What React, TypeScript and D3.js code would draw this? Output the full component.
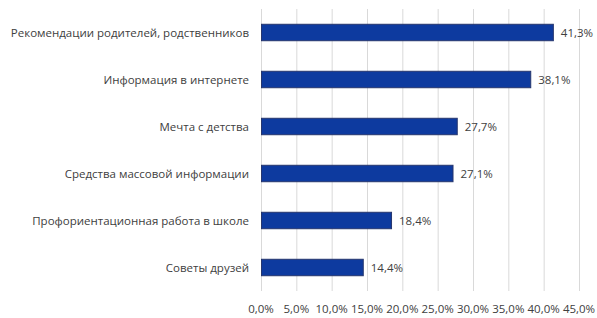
import React, { useRef, useEffect } from 'react';
import * as d3 from 'd3';

const categories = [
  'Рекомендации родителей, родственников',
  'Информация в интернете',
  'Мечта с детства',
  'Средства массовой информации',
  'Профориентационная работа в школе',
  'Советы друзей',
];
const values = [41.3, 38.1, 27.7, 27.1, 18.4, 14.4];
const ticks = [0, 5, 10, 15, 20, 25, 30, 35, 40, 45];

const fmt = (v: number) => v.toFixed(1).replace('.', ',') + '%';

function App() {
  const svgRef = useRef<SVGSVGElement>(null);

  useEffect(() => {
    const svg = d3.select(svgRef.current);
    svg.selectAll('*').remove();

    const width = 597;
    const height = 318;
    const margin = { top: 9, right: 18, bottom: 27, left: 261 };

    const x = d3.scaleLinear().domain([0, 45]).range([margin.left, width - margin.right]);
    const y = d3
      .scaleBand()
      .domain(categories)
      .range([margin.top, height - margin.bottom])
      .paddingInner(0.65)
      .paddingOuter(0.325);

    const font = '"Open Sans", "Noto Sans", sans-serif';

    // gridlines
    svg
      .append('g')
      .selectAll('line')
      .data(ticks)
      .enter()
      .append('line')
      .attr('x1', (d) => x(d) + 0.5)
      .attr('x2', (d) => x(d) + 0.5)
      .attr('y1', margin.top)
      .attr('y2', height - margin.bottom)
      .attr('stroke', '#d9d9d9')
      .attr('stroke-width', 1);

    // tick labels
    svg
      .append('g')
      .selectAll('text')
      .data(ticks)
      .enter()
      .append('text')
      .attr('x', (d) => x(d))
      .attr('y', 313)
      .attr('text-anchor', 'middle')
      .attr('font-family', font)
      .attr('font-size', 11.5)
      .attr('fill', '#404040')
      .text((d) => fmt(d));

    // bars
    svg
      .append('g')
      .selectAll('rect')
      .data(values)
      .enter()
      .append('rect')
      .attr('x', x(0) + 0.5)
      .attr('y', (_, i) => y(categories[i])!)
      .attr('width', (d) => x(d) - x(0))
      .attr('height', y.bandwidth())
      .attr('fill', '#0d3a9f')
      .attr('stroke', '#26366e')
      .attr('stroke-width', 1);

    // value labels
    svg
      .append('g')
      .selectAll('text')
      .data(values)
      .enter()
      .append('text')
      .attr('x', (d) => x(d) + 8)
      .attr('y', (_, i) => y(categories[i])! + y.bandwidth() / 2)
      .attr('dy', '0.35em')
      .attr('font-family', font)
      .attr('font-size', 11.5)
      .attr('fill', '#404040')
      .text((d) => fmt(d));

    // category labels
    svg
      .append('g')
      .selectAll('text')
      .data(categories)
      .enter()
      .append('text')
      .attr('x', margin.left - 12)
      .attr('y', (d) => y(d)! + y.bandwidth() / 2)
      .attr('dy', '0.35em')
      .attr('text-anchor', 'end')
      .attr('font-family', font)
      .attr('font-size', 11.5)
      .attr('fill', '#404040')
      .text((d) => d);
  }, []);

  return (
    <svg
      ref={svgRef}
      width={597}
      height={318}
      style={{ position: 'absolute', left: 0, top: 0, background: '#fff' }}
    />
  );
}

export default App;
